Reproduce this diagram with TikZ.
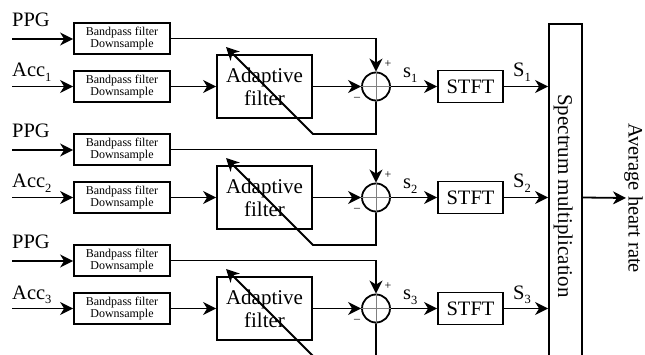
\documentclass[tikz,border=0pt]{standalone}
\usepackage{fontspec}
\setmainfont{Liberation Serif}
\usetikzlibrary{arrows.meta}
\newcommand{\mysub}[1]{\raisebox{-5pt}{\fontsize{12.5}{12.5}\selectfont #1}}
\tikzset{
  ln/.style={line width=1.8pt},
  arr/.style={ln, -{Stealth[length=13pt,width=13pt,inset=4pt]}},
  bp/.style={draw, ln, minimum width=96pt, minimum height=31pt, inner sep=0pt, align=center, font=\rmfamily\fontsize{12}{12.5}\selectfont},
  af/.style={draw, ln, minimum width=95pt, minimum height=63pt, inner sep=0pt, align=center, font=\rmfamily\fontsize{21}{23}\selectfont},
  stft/.style={draw, ln, minimum width=65pt, minimum height=32pt, inner sep=0pt, font=\rmfamily\fontsize{20.5}{23}\selectfont},
  sumc/.style={draw, ln, circle, minimum size=28pt, inner sep=0pt},
  lab/.style={inner sep=0pt, anchor=base west, font=\rmfamily\fontsize{20.5}{23}\selectfont},
  sgn/.style={inner sep=0pt, font=\rmfamily\fontsize{12}{12}\selectfont},
}
\begin{document}
\begin{tikzpicture}[x=1pt, y=-1pt]
\useasboundingbox (0,0) rectangle (645,355);
\clip (0,0) rectangle (645,355);
% spectrum box
\node[draw, ln, minimum width=33pt, minimum height=390pt, inner sep=0pt] (sp) at (565.5,219) {};
\node[rotate=-90, inner sep=0pt, anchor=base, font=\rmfamily\fontsize{21}{23}\selectfont] (spl) at (558,196) {Spectrum multiplication};
\foreach \i/\o in {1/0,2/111,3/222}{
  \node[lab] (lp\i) at (12,27+\o) {PPG};
  \node[lab] (la\i) at (12,77+\o) {Acc\mysub{\i}};
  \coordinate (inp\i) at (12,39+\o);
  \coordinate (ina\i) at (12,86.5+\o);
  \node[bp] (p\i) at (122,38.5+\o) {Bandpass filter\\Downsample};
  \node[bp] (a\i) at (122,86.5+\o) {Bandpass filter\\Downsample};
  \node[af] (af\i) at (264.5,86.5+\o) {Adaptive\\filter};
  \node[sumc] (s\i) at (376,86.5+\o) {};
  \node[stft] (st\i) at (470.5,86.5+\o) {STFT};
  \coordinate (fb\i) at (313,134+\o);
  \coordinate (tip\i) at (226,47+\o);
  \draw[line width=0.6pt, gray] (s\i.north) -- (s\i.south) (s\i.west) -- (s\i.east);
  \draw[arr] (inp\i) -- (inp\i -| p\i.west);
  \draw[arr] (ina\i) -- (a\i.west);
  \draw[arr] (a\i.east) -- (af\i.west);
  \draw[arr] (p\i.east) -| (s\i.north);
  \draw[arr] (af\i.east) -- (s\i.west);
  \draw[arr] (s\i.east) -- (st\i.west);
  \draw[arr] (st\i.east) -- (st\i.east -| sp.west);
  \draw[arr] (s\i.south) |- (fb\i) -- (tip\i);
  \node[sgn] (pl\i) at (388,64+\o) {+};
  \node[sgn] (mi\i) at (357,99+\o) {--};
  \node[lab] (sl\i) at (403,78+\o) {s\mysub{\i}};
  \node[lab] (Sl\i) at (513,77+\o) {S\mysub{\i}};
}
\coordinate (out) at (626,198);
\draw[arr] (sp.east |- s2) -- (out);
\node[rotate=-90, inner sep=0pt, anchor=base, font=\rmfamily\fontsize{20.5}{23}\selectfont] (ahr) at (628.5,198) {Average heart rate};
\end{tikzpicture}
\end{document}
